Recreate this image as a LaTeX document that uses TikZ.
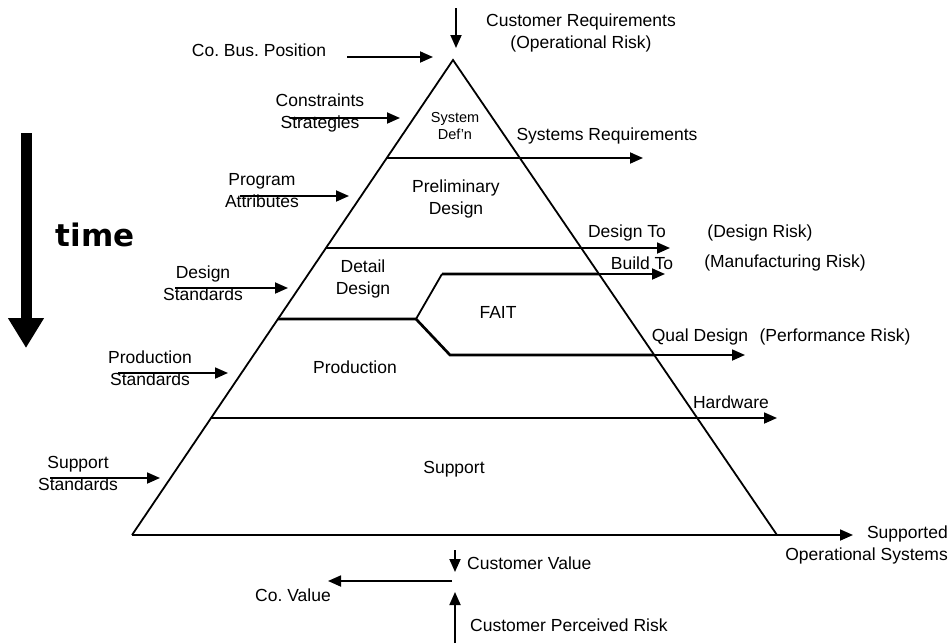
\documentclass[tikz,border=0pt]{standalone}
\usepackage{fontspec}
\setmainfont{Liberation Sans}
\newfontfamily\timefont{DejaVu Sans}
\usetikzlibrary{arrows.meta,calc}
\frenchspacing

\begin{document}
\begin{tikzpicture}[
  x=1pt, y=-1pt,
  lbl/.style={font=\fontsize{17.5}{22}\selectfont, inner sep=0pt, align=center},
  tiny/.style={font=\fontsize{14.5}{17}\selectfont, inner sep=0pt, align=center},
  side/.style={line width=1.8pt},
  tier/.style={line width=2.7pt},
  arr/.style={-{Triangle[length=13pt,width=11pt]}, line width=1.8pt}
]
\useasboundingbox (0,0) rectangle (951,643);

% pyramid
\coordinate (top) at (453,60);
\coordinate (bl) at (132,535);
\coordinate (br) at (777,535);
\draw[side] (bl) -- (top) -- (br);
\draw[tier] (bl) -- (br);

% tiers
\coordinate (t1l) at ($(top)!0.2063!(bl)$);
\coordinate (t1r) at ($(top)!0.2063!(br)$);
\coordinate (t1a) at (643,158);
\coordinate (t2l) at ($(top)!0.3958!(bl)$);
\coordinate (t2r) at ($(top)!0.3958!(br)$);
\coordinate (t2a) at (670,248);
\coordinate (f1) at (442,274);
\coordinate (bdr) at ($(top)!0.4505!(br)$);
\coordinate (bda) at (665,274);
\coordinate (dl) at ($(top)!0.5453!(bl)$);
\coordinate (f2) at (416,319);
\coordinate (f3) at (450,355);
\coordinate (qr) at ($(top)!0.6211!(br)$);
\coordinate (qa) at (745,355);
\coordinate (hl) at ($(top)!0.7537!(bl)$);
\coordinate (hr) at ($(top)!0.7537!(br)$);
\coordinate (ha) at (777,418);

\draw[tier] (t1l) -- (t1r);
\draw[arr] (t1r) -- (t1a);
\draw[tier] (t2l) -- (t2r);
\draw[arr] (t2r) -- (t2a);
\draw[tier] (f1) -- (bdr);
\draw[arr] (bdr) -- (bda);
\draw[tier] (dl) -- (f2);
\draw[side] (f1) -- (f2);
\draw[tier] (f2) -- (f3) -- (qr);
\draw[arr] (qr) -- (qa);
\draw[tier] (hl) -- (hr);
\draw[arr] (hr) -- (ha);

% labels inside
\node[tiny] (sysdef) at (455,126) {System\\Def'n};
\node[lbl] (prelim) at (456,199) {Preliminary\\Design};
\node[lbl] (detail) at (363,279) {Detail\\Design};
\node[lbl] (fait) at (498,312) {FAIT};
\node[lbl] (production) at (355,367) {Production};
\node[lbl] (support) at (454,469) {Support};

% outputs
\node[lbl] (custreq) at (581,33) {Customer Requirements\\(Operational Risk)};
\node[lbl] (sysreq) at (607,136) {Systems Requirements};
\node[lbl] (designto) at (627,233) {Design To};
\node[lbl] (designrisk) at (760,233) {(Design Risk)};
\node[lbl] (buildto) at (642,263) {Build To};
\node[lbl] (mfgrisk) at (785,263) {(Manufacturing Risk)};
\node[lbl] (qual) at (700,337) {Qual Design};
\node[lbl] (perfrisk) at (835,337) {(Performance Risk)};
\node[lbl] (hardware) at (731,402) {Hardware};
\node[lbl, anchor=east, align=right] (supported) at (948,545) {Supported\\Operational Systems};

% inputs
\node[lbl] (cobus) at (259,50) {Co. Bus. Position};
\node[lbl] (constr) at (320,113) {Constraints\\Strategies};
\node[lbl] (progattr) at (262,191) {Program\\Attributes};
\node[lbl] (designstd) at (203,283) {Design\\Standards};
\node[lbl] (prodstd) at (150,368) {Production\\Standards};
\node[lbl] (supstd) at (78,473) {Support\\Standards};

% bottom
\node[lbl, anchor=west] (custval) at (467,563) {Customer Value};
\node[lbl] (covalue) at (293,595) {Co. Value};
\node[lbl, anchor=west] (perceived) at (470,625) {Customer Perceived Risk};

% time
\node[font=\timefont\bfseries\fontsize{31}{31}\selectfont, inner sep=0pt] (time) at (95,235) {time};
\coordinate (tm0) at (26,133);
\coordinate (tm1) at (26,348);
\draw[-{Triangle[length=30pt,width=34pt]}, line width=11pt] (tm0) -- (tm1);

% input arrows
\coordinate (cr0) at (456,8);
\coordinate (cr1) at (456,48);
\coordinate (cb0) at (347,57);
\coordinate (cb1) at (433,57);
\coordinate (cs0) at (290,118);
\coordinate (cs1) at (400,118);
\coordinate (pa0) at (240,196);
\coordinate (pa1) at (349,196);
\coordinate (ds0) at (175,288);
\coordinate (ds1) at (288,288);
\coordinate (ps0) at (118,373);
\coordinate (ps1) at (228,373);
\coordinate (ss0) at (50,478);
\coordinate (ss1) at (160,478);
\coordinate (sa) at (853,535);
\coordinate (cv0) at (455,550);
\coordinate (cv1) at (455,572);
\coordinate (co0) at (452,581);
\coordinate (co1) at (328,581);
\coordinate (pr0) at (455,643);
\coordinate (pr1) at (455,592);

\draw[arr] (cr0) -- (cr1);
\draw[arr] (cb0) -- (cb1);
\draw[arr] (cs0) -- (cs1);
\draw[arr] (pa0) -- (pa1);
\draw[arr] (ds0) -- (ds1);
\draw[arr] (ps0) -- (ps1);
\draw[arr] (ss0) -- (ss1);
\draw[arr] (br) -- (sa);
\draw[arr] (cv0) -- (cv1);
\draw[arr] (co0) -- (co1);
\draw[arr] (pr0) -- (pr1);
\end{tikzpicture}
\end{document}
